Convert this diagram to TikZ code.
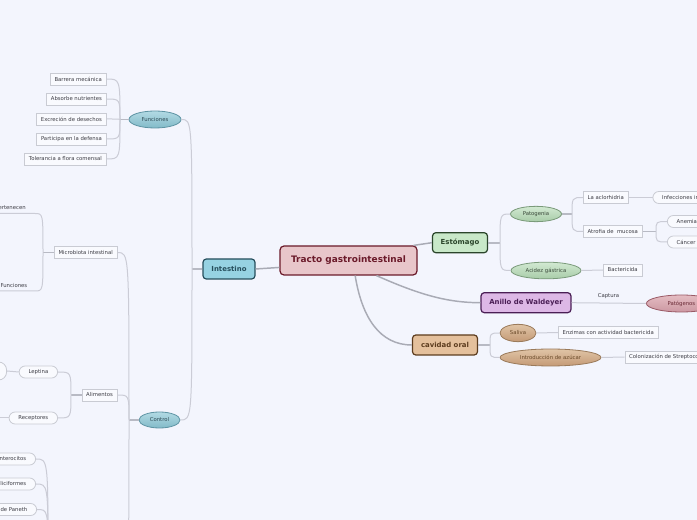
\documentclass[tikz,border=0pt]{standalone}
\usepackage{fontspec}
\setmainfont{DejaVu Sans}
\usetikzlibrary{shapes.geometric}
\definecolor{bgc}{HTML}{F3F5FD}
\definecolor{connc}{HTML}{CBCCD6}
\definecolor{stubc}{HTML}{B8BAC4}
\definecolor{mainc}{HTML}{A9ABB5}
\definecolor{boxd}{HTML}{C9CBD3}
\definecolor{boxf}{HTML}{F9FAFE}
\definecolor{txtc}{HTML}{3C3C44}
\definecolor{rootd}{HTML}{6B1A2A}
\definecolor{rootf}{HTML}{E8C6CA}
\definecolor{intd}{HTML}{264E5C}
\definecolor{intf}{HTML}{96D2E2}
\definecolor{estd}{HTML}{2A452A}
\definecolor{estf}{HTML}{C8E8C8}
\definecolor{anid}{HTML}{4A1E55}
\definecolor{anif}{HTML}{DDB8E6}
\definecolor{orad}{HTML}{5C3C1E}
\definecolor{oraf}{HTML}{E4C09C}
\definecolor{bluet}{HTML}{B2DAE4}
\definecolor{blueb}{HTML}{82BAC8}
\definecolor{blued}{HTML}{5E94A4}
\definecolor{bluetx}{HTML}{2E4A55}
\definecolor{greent}{HTML}{D2E9D2}
\definecolor{greenb}{HTML}{A8CCA8}
\definecolor{greend}{HTML}{7A9A7A}
\definecolor{greentx}{HTML}{3A4A3A}
\definecolor{tant}{HTML}{E0C4A6}
\definecolor{tanb}{HTML}{C49A76}
\definecolor{tand}{HTML}{9A7A5A}
\definecolor{tantx}{HTML}{6A4A2A}
\definecolor{pinkt}{HTML}{E4BCC2}
\definecolor{pinkb}{HTML}{CC98A2}
\definecolor{pinkd}{HTML}{9A5A66}
\definecolor{pinktx}{HTML}{6A2A36}
\newcommand\tgsmall{\fontsize{4}{4.8}\selectfont}
\tikzset{
  conn/.style={draw=connc, line width=0.75pt},
  stub/.style={draw=stubc, line width=1.4pt},
  mainconn/.style={draw=mainc, line width=1.1pt},
  box/.style={draw=boxd, fill=boxf, line width=0.6pt, font=\tgsmall, text=txtc,
    inner xsep=3.2pt, inner ysep=0pt, minimum height=9pt},
  pill/.style={box, rounded corners=4.5pt, inner xsep=7pt},
  plain/.style={font=\tgsmall, text=txtc, inner sep=0pt},
  lvone/.style={rounded corners=2.5pt, line width=0.9pt, font=\fontsize{5.2}{6}\selectfont\bfseries,
    inner sep=0pt, minimum height=15pt},
  ell/.style={ellipse, line width=0.6pt, inner sep=0pt, font=\tgsmall},
  blueell/.style={ell, draw=blued, top color=bluet, bottom color=blueb, text=bluetx},
  greenell/.style={ell, draw=greend, top color=greent, bottom color=greenb, text=greentx},
  tanell/.style={ell, draw=tand, top color=tant, bottom color=tanb, text=tantx},
  pinkell/.style={ell, draw=pinkd, top color=pinkt, bottom color=pinkb, text=pinktx},
}
\begin{document}
\begin{tikzpicture}[x=0.75pt,y=-0.75pt]
\useasboundingbox (0,0) rectangle (697,520);
\fill[bgc] (0,0) rectangle (697,520);
\clip (0,0) rectangle (697,520);

% root and first level
\node[draw=rootd, fill=rootf, text=rootd, line width=0.9pt, rounded corners=3pt,
  font=\fontsize{6.7}{8}\selectfont\bfseries, minimum width=102.75pt, minimum height=21.75pt,
  inner sep=0pt] (root) at (348.5,260.5) {Tracto gastrointestinal};
\node[lvone, draw=intd, fill=intf, text=intd, minimum width=39pt] (intes) at (229,269) {Intestino};
\node[lvone, draw=estd, fill=estf, text=estd, minimum width=41.25pt] (esto) at (460,242.7) {Estómago};
\node[lvone, draw=anid, fill=anif, text=anid, minimum width=67.5pt] (anillo) at (526,302.7) {Anillo de Waldeyer};
\node[lvone, draw=orad, fill=oraf, text=orad, minimum width=48.75pt] (oral) at (445,345) {cavidad oral};

% ellipses
\node[blueell, minimum width=39pt, minimum height=12.75pt] (fun) at (155,119.5) {Funciones};
\node[blueell, minimum width=30.75pt, minimum height=12pt] (ctl) at (159.5,420) {Control};
\node[greenell, minimum width=38.25pt, minimum height=11.5pt] (pat) at (536,214) {Patogenia};
\node[greenell, minimum width=52.5pt, minimum height=12.5pt] (aci) at (546,270.5) {Acidez gástrica};
\node[tanell, minimum width=27pt, minimum height=13pt] (sal) at (518,333) {Saliva};
\node[tanell, minimum width=75.75pt, minimum height=12.75pt] (intro) at (550.5,357.5) {Introducción de azúcar};
\node[pinkell, minimum width=52.5pt, minimum height=12.75pt, anchor=west] (patg) at (646,303.5) {Patógenos};

% boxes left (Funciones)
\node[box, anchor=east] (b1) at (106.5,79) {Barrera mecánica};
\node[box, anchor=east] (b2) at (106.5,99) {Absorbe nutrientes};
\node[box, anchor=east] (b3) at (106.5,119) {Excreción de desechos};
\node[box, anchor=east] (b4) at (106.5,139) {Participa en la defensa};
\node[box, anchor=east] (b5) at (106.5,159) {Tolerancia a flora comensal};
\node[box, anchor=east] (micro) at (117.5,252.5) {Microbiota intestinal};
\node[box, anchor=east] (alim) at (117.5,395) {Alimentos};

% boxes right
\node[box, anchor=west] (acl) at (583,197.5) {La aclorhidria};
\node[box, anchor=west] (atr) at (583,231.5) {Atrofia de~ mucosa};
\node[box, anchor=west] (bac) at (603,270) {Bactericida};
\node[box, anchor=west] (enz) at (558,332.5) {Enzimas con actividad bactericida};
\node[box, anchor=west] (col) at (624.5,357) {Colonización de Streptococcus mutans};

% pills
\node[pill, anchor=west] (inf) at (652.5,197.5) {Infecciones intestinales};
\node[pill, anchor=west] (ane) at (667,221.5) {Anemia};
\node[pill, anchor=west] (can) at (667,242) {Cáncer};
\node[pill, anchor=east] (lep) at (58,372) {Leptina};
\node[pill, anchor=east] (rec) at (58,418) {Receptores};
\node[pill, anchor=east, minimum width=40pt, minimum height=13.5pt, rounded corners=6pt] (lx) at (7,371) {};
\node[pill, anchor=east] (ent) at (36,459) {Enterocitos};
\node[pill, anchor=east] (cal) at (36,484) {Caliciformes};
\node[pill, anchor=east] (pan) at (37,509.5) {Células de Paneth};

% plain labels
\node[plain] (cap) at (608.5,296.5) {Captura};
\node[plain, anchor=east] (per) at (26,208) {Pertenecen};
\node[plain, anchor=east] (fn2) at (27.5,286) {Funciones};
\coordinate (perU) at (35,213.5);
\coordinate (fn2U) at (35,291);

% junctions and off-page ends
\coordinate (jI) at (192,269);
\coordinate (jF) at (120,119.5);
\coordinate (jC) at (129,420);
\coordinate (jM) at (43,252.5);
\coordinate (jAl) at (71,395);
\coordinate (jB) at (48,560);
\coordinate (botC) at (118,575);
\coordinate (rx) at (-20,418);
\coordinate (jE) at (500,242.7);
\coordinate (jP) at (572,214);
\coordinate (jAt) at (656,231.5);
\coordinate (jO) at (490,345);

% main connectors
\draw[mainconn] (intes.east) -- ([yshift=-5.2pt]root.west);
\draw[mainconn] ([xshift=-3pt]root.north east) -- (esto.west);
\draw[mainconn] ([xshift=21pt]root.south) .. controls (420,295) and (448,302.7) .. (anillo.west);
\draw[mainconn] ([xshift=5pt]root.south) .. controls (362,318) and (380,345) .. (oral.west);

% Intestino
\draw[stub] (intes.west) -- (jI);
\draw[conn] (jI) .. controls (jI |- fun.east) .. (fun.east);
\draw[conn] (jI) .. controls (jI |- ctl.east) .. (ctl.east);

% Funciones
\draw[stub] (fun.west) -- (jF);
\foreach \b in {b1,b2,b3,b4,b5}
  \draw[conn] (jF) .. controls (jF |- \b.east) .. (\b.east);

% Control
\draw[stub] (ctl.west) -- (jC);
\draw[conn] (jC) .. controls (jC |- micro.east) .. (micro.east);
\draw[conn] (jC) .. controls (jC |- alim.east) .. (alim.east);
\draw[conn] (jC) .. controls (jC |- botC) .. (botC);

% Microbiota
\draw[stub] (micro.west) -- (jM);
\draw[conn] (jM) .. controls (jM |- perU) .. (perU) -- ++(-60,0);
\draw[conn] (jM) .. controls (jM |- fn2U) .. (fn2U) -- ++(-60,0);

% Alimentos
\draw[stub] (alim.west) -- (jAl);
\draw[conn] (jAl) .. controls (jAl |- lep.east) .. (lep.east);
\draw[conn] (jAl) .. controls (jAl |- rec.east) .. (rec.east);
\draw[conn] (lep.west) -- (lx.east);
\draw[conn] (rec.west) -- (rx);

% bottom group
\foreach \b in {ent,cal,pan}
  \draw[conn] (jB) .. controls (jB |- \b.east) .. (\b.east);

% Estomago
\draw[stub] (esto.east) -- (jE);
\draw[conn] (jE) .. controls (jE |- pat.west) .. (pat.west);
\draw[conn] (jE) .. controls (jE |- aci.west) .. (aci.west);
\draw[stub] (pat.east) -- (jP);
\draw[conn] (jP) .. controls (jP |- acl.west) .. (acl.west);
\draw[conn] (jP) .. controls (jP |- atr.west) .. (atr.west);
\draw[conn] (acl.east) -- (inf.west);
\draw[stub] (atr.east) -- (jAt);
\draw[conn] (jAt) .. controls (jAt |- ane.west) .. (ane.west);
\draw[conn] (jAt) .. controls (jAt |- can.west) .. (can.west);
\draw[conn] (aci.east) -- (bac.west);

% Anillo
\draw[conn] (anillo.east) -- (patg.west);

% cavidad oral
\draw[stub] (oral.east) -- (jO);
\draw[conn] (jO) .. controls (jO |- sal.west) .. (sal.west);
\draw[conn] (jO) .. controls (jO |- intro.west) .. (intro.west);
\draw[conn] (sal.east) -- (enz.west);
\draw[conn] (intro.east) -- (col.west);
\end{tikzpicture}
\end{document}
